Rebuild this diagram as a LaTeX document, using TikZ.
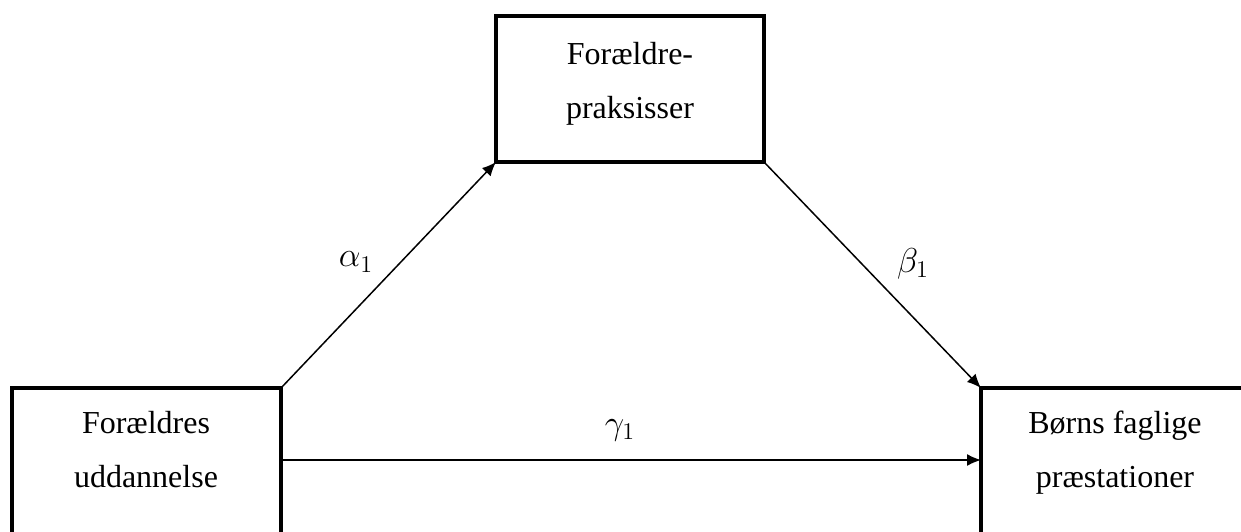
\documentclass[tikz,border=0pt]{standalone}
\usepackage{fontspec}
\setmainfont{Liberation Serif}
\usetikzlibrary{arrows.meta}
\begin{document}
\begin{tikzpicture}[x=0.5pt,y=-0.5pt,
  boxst/.style={draw=black,line width=1.7pt,anchor=north west,inner sep=0pt,outer sep=0pt},
  txt/.style={font=\fontsize{16}{27}\selectfont,align=center,anchor=base,inner sep=0pt},
  lab/.style={font=\fontsize{17}{20}\selectfont,inner sep=0pt},
  arr/.style={line width=0.75pt,-{Latex[length=7pt,width=6pt]}}]
\useasboundingbox (0,0) rectangle (1241,531);
\clip (0,0) rectangle (1241,531);
\node[boxst,minimum width=134.5pt,minimum height=90pt] (L) at (12,388) {};
\node[boxst,minimum width=134pt,minimum height=73pt] (T) at (496,16) {};
\node[boxst,minimum width=150pt,minimum height=90pt] (R) at (981,388) {};
\node[txt] (Ltxt) at (146,487) {Forældres\\uddannelse};
\node[txt] (Ttxt) at (630,118) {Forældre-\\praksisser};
\node[txt] (Rtxt) at (1115,487) {Børns faglige\\præstationer};
\draw[arr] (L.north east) -- (T.south west);
\draw[arr] (T.south east) -- (R.north west);
\draw[arr] ([yshift=-36pt]L.north east) -- ([yshift=-36pt]R.north west);
\node[lab] (a) at (356,262) {$\alpha_1$};
\node[lab] (b) at (913,264) {$\beta_1$};
\node[lab] (g) at (620,430) {$\gamma_1$};
\end{tikzpicture}
\end{document}
